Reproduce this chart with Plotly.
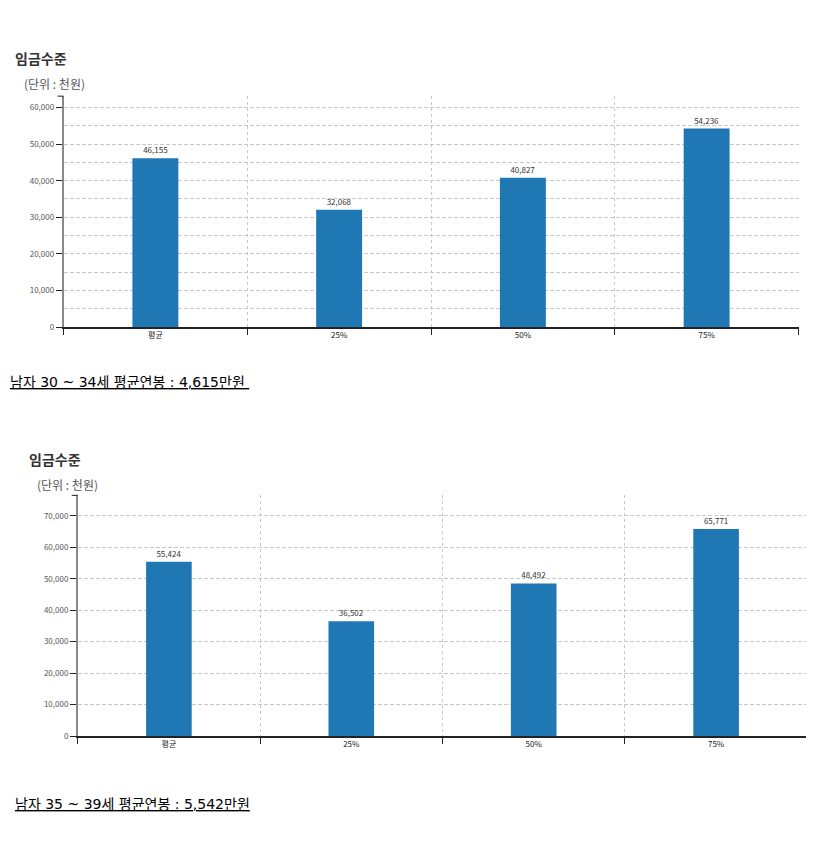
import plotly.graph_objects as go

categories = ["평균", "25%", "50%", "75%"]
values_30_34 = [46155, 32068, 40827, 54236]
values_35_39 = [55424, 36502, 48492, 65771]
footnote_1 = "남자 30 ~ 34세 평균연봉 : 4,615만원"
footnote_2 = "남자 35 ~ 39세 평균연봉 : 5,542만원"
chart_title = "임금수준"
unit_label = "(단위 : 천원)"

# page body has an 8px margin; keep the figure a bit smaller than the window
OFF = 8
W, H = 814 - OFF - 4, 856 - 2 * OFF - 8
FONT = "Noto Sans CJK KR, sans-serif"
FOOT_FONT = "DejaVu Sans, Noto Sans CJK KR, sans-serif"
BAR = "#1f77b4"
GRID = "#c8c8c8"

fig = go.Figure()

for vals, xa, ya in [(values_30_34, "x", "y"), (values_35_39, "x2", "y2")]:
    fig.add_trace(go.Bar(
        x=categories, y=vals, xaxis=xa, yaxis=ya,
        marker=dict(color=BAR, line=dict(width=0)), width=0.25,
        text=vals, texttemplate="%{y:,}", textposition="outside",
        textfont=dict(size=8, color="#333", family=FONT), cliponaxis=False,
        hoverinfo="skip"))

def px_x(p):
    return min(1.0, max(0.0, (p - OFF) / W))

def px_y(p):
    return min(1.0, max(0.0, 1 - (p - OFF) / H))

def xaxis(dom, anchor):
    return dict(
        domain=dom, anchor=anchor, type="category", tickson="boundaries",
        showgrid=True, gridcolor=GRID, griddash="3px,3px", gridwidth=1,
        showline=True, linecolor="#222", linewidth=1.5,
        ticks="outside", ticklen=6, tickcolor="#222", tickwidth=1,
        tickfont=dict(size=8, color="#222", family=FONT),
        zeroline=False, fixedrange=True)

def yaxis(dom, anchor, rmax, minor):
    d = dict(
        domain=dom, anchor=anchor, range=[0, rmax], dtick=10000, tick0=0,
        tickformat=",d", showgrid=True, gridcolor=GRID, griddash="4px,2px",
        gridwidth=1, showline=True, linecolor="#888", linewidth=1.5,
        ticks="outside", ticklen=6, tickcolor="#222", tickwidth=1,
        tickfont=dict(size=8, color="#555", family=FONT),
        zeroline=False, fixedrange=True)
    if minor:
        d["minor"] = dict(dtick=5000, tick0=0, showgrid=True, gridcolor=GRID,
                          griddash="4px,2px", gridwidth=1, ticks="")
    return d

fig.update_layout(
    width=W, height=H, margin=dict(l=0, r=0, t=0, b=0),
    paper_bgcolor="white", plot_bgcolor="white", showlegend=False,
    font=dict(family=FONT),
    xaxis=xaxis([px_x(63.5), px_x(798.5)], "y"),
    yaxis=yaxis([px_y(329), px_y(96.7)], "x", 63100, True),
    xaxis2=xaxis([px_x(77.7), px_x(807.3)], "y2"),
    yaxis2=yaxis([px_y(740.5), px_y(498.3)], "x2", 76500, False),
)

# outer tick at the top of each y axis
for xa, ya in [("x", "y"), ("x2", "y2")]:
    fig.add_shape(type="line", xref=f"{xa} domain", yref=f"{ya} domain",
                  xsizemode="pixel", xanchor=0, x0=-6, x1=0, y0=1, y1=1,
                  line=dict(color="#222", width=1))

def ann(text, x, y, size, color, family=FONT, bold=False):
    fig.add_annotation(
        text=f"<b>{text}</b>" if bold else text, x=px_x(x), y=px_y(y),
        xref="paper", yref="paper", xanchor="left", yanchor="middle",
        showarrow=False, font=dict(size=size, color=color, family=family))

ann(chart_title, 13, 58, 14, "#333", bold=True)
ann(unit_label, 22, 84, 12, "#555")
ann(f"<u>{footnote_1}&nbsp;</u>", 4, 384, 14, "#000", family=FOOT_FONT)

ann(chart_title, 27, 461.5, 14, "#333", bold=True)
ann(unit_label, 35, 487.5, 12, "#555")
ann(f"<u>{footnote_2}</u>", 13, 809, 14, "#000", family=FOOT_FONT)

fig.write_html("out.html")
